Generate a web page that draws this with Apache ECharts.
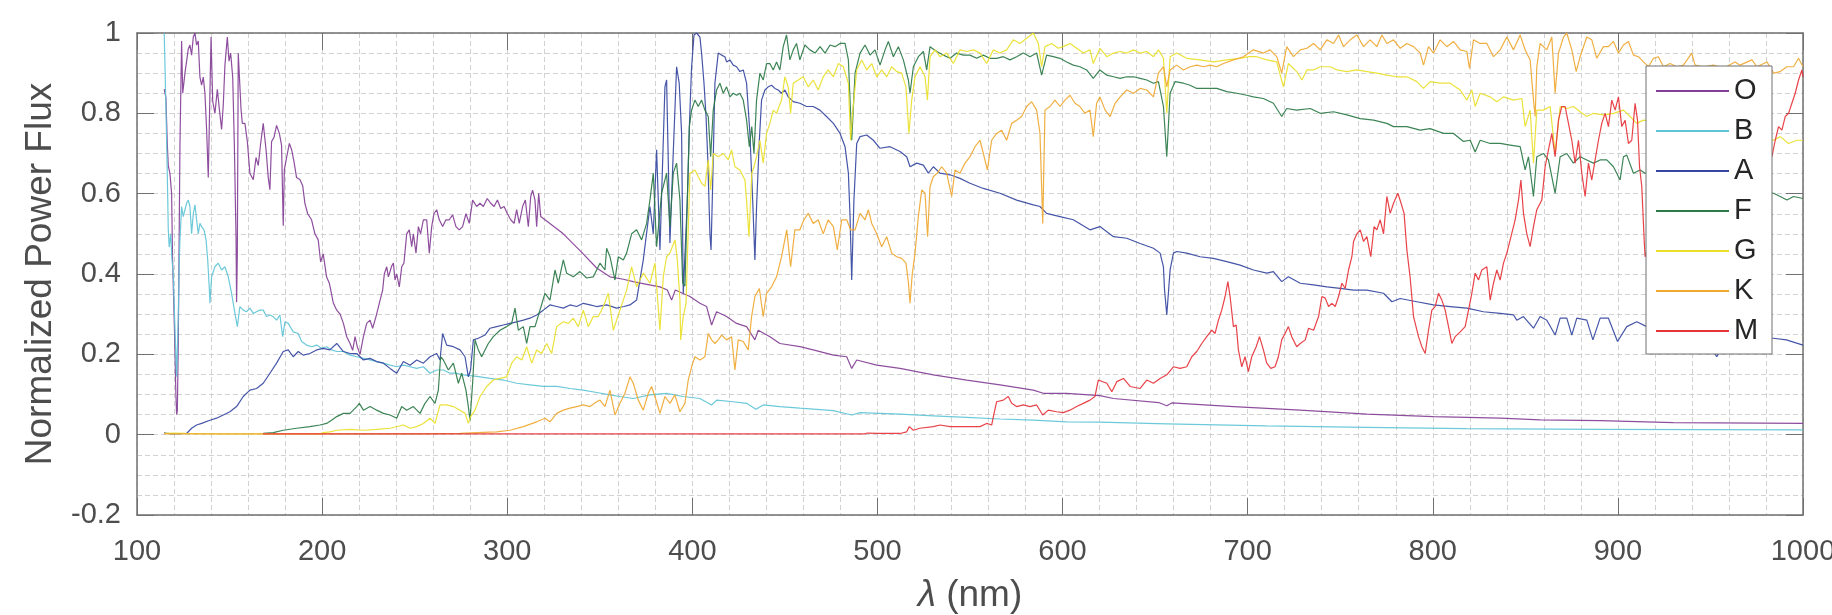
<!DOCTYPE html>
<html><head><meta charset="utf-8">
<script src="https://cdn.jsdelivr.net/npm/echarts@6/dist/echarts.min.js"></script>
<style>html,body{margin:0;padding:0;background:#fff;overflow:hidden}#c{width:1832px;height:615px}</style>
</head><body><div id="c"></div>
<script>
// Star classes (legend order)
const seriesNames = ['O','B','A','F','G','K','M'];
const xTicks = [100,200,300,400,500,600,700,800,900,1000];
const yTicks = [-0.2,0,0.2,0.4,0.6,0.8,1];

// [wavelength nm, normalized flux]
const O = [[114.7,0.86],[115.6,0.84],[116.4,0.72],[116.9,0.67],[117.8,0.65],[118.7,0.60],[119.2,0.44],[120.3,0.25],[121.0,0.10],[121.4,0.05],[121.8,0.06],[122.3,0.23],[123.2,0.72],[124.1,0.98],[124.7,0.85],[125.9,0.90],[126.8,0.93],[127.7,0.96],[128.6,0.97],[129.5,0.945],[130.4,0.99],[131.3,1.0],[132.2,0.97],[133.1,0.98],[134.0,0.89],[134.9,0.87],[135.8,0.89],[136.7,0.85],[137.6,0.76],[138.5,0.64],[139.4,0.85],[140.0,0.99],[140.9,0.83],[142.1,0.80],[143.4,0.86],[144.5,0.81],[145.7,0.76],[146.6,0.82],[147.5,0.92],[148.8,0.99],[149.7,0.93],[150.6,0.95],[151.7,0.89],[152.6,0.72],[153.5,0.49],[153.8,0.33],[154.2,0.45],[154.7,0.95],[155.6,0.95],[156.2,0.81],[156.9,0.775],[158.3,0.775],[159.6,0.73],[161.0,0.65],[162.8,0.635],[164.3,0.69],[165.5,0.67],[166.8,0.725],[168.2,0.775],[169.7,0.71],[170.9,0.64],[171.8,0.61],[172.7,0.73],[174.0,0.74],[175.4,0.77],[176.9,0.75],[178.1,0.72],[179.0,0.52],[179.6,0.66],[180.8,0.69],[182.3,0.725],[183.5,0.71],[184.8,0.68],[186.2,0.64],[188.0,0.635],[189.5,0.62],[190.7,0.576],[192.2,0.55],[194.3,0.535],[196.1,0.50],[197.9,0.485],[199.2,0.43],[200.6,0.45],[202.4,0.393],[203.9,0.377],[205.1,0.35],[206.1,0.327],[207.9,0.31],[209.7,0.30],[211.5,0.277],[213.3,0.244],[215.1,0.227],[216.5,0.21],[217.8,0.244],[219.0,0.219],[220.5,0.20],[222.3,0.244],[224.1,0.277],[225.9,0.285],[227.3,0.265],[229.1,0.294],[230.9,0.327],[232.7,0.36],[233.6,0.40],[234.9,0.418],[235.8,0.393],[236.7,0.393],[237.6,0.42],[238.5,0.427],[239.4,0.385],[240.3,0.40],[241.7,0.368],[243.0,0.418],[244.2,0.427],[245.7,0.50],[247.1,0.51],[248.4,0.468],[249.3,0.50],[250.7,0.452],[252.0,0.518],[253.2,0.50],[254.7,0.535],[256.5,0.535],[257.9,0.452],[259.2,0.518],[260.4,0.55],[261.9,0.56],[263.3,0.535],[265.1,0.518],[266.9,0.535],[268.7,0.535],[270.5,0.547],[272.3,0.518],[274.1,0.51],[275.9,0.518],[277.7,0.55],[279.5,0.526],[281.3,0.584],[283.5,0.568],[285.3,0.576],[287.1,0.568],[289.2,0.588],[291.1,0.576],[292.9,0.568],[294.7,0.584],[296.5,0.563],[298.3,0.568],[300.1,0.55],[301.9,0.535],[303.7,0.526],[305.1,0.56],[306.5,0.526],[308.3,0.568],[309.8,0.584],[311.4,0.518],[312.7,0.593],[313.7,0.609],[315.0,0.584],[315.9,0.518],[317.0,0.601],[318.1,0.543],[330.3,0.50],[340.0,0.455],[348.3,0.415],[355.5,0.393],[362.7,0.387],[368.1,0.381],[374.7,0.375],[382.5,0.368],[386.5,0.36],[388.8,0.335],[390.8,0.36],[398.7,0.344],[404.1,0.327],[407.7,0.319],[410.4,0.273],[413.1,0.306],[418.5,0.294],[423.9,0.277],[429.3,0.269],[433.8,0.236],[435.6,0.26],[441.9,0.244],[447.3,0.227],[458.1,0.219],[465.3,0.211],[476.2,0.198],[483.4,0.194],[486.1,0.165],[488.8,0.186],[499.6,0.173],[512.2,0.165],[530.2,0.149],[548.2,0.136],[566.2,0.124],[584.2,0.111],[589.6,0.103],[602.2,0.103],[620.2,0.097],[627.5,0.09],[652.0,0.08],[656.3,0.072],[659.0,0.079],[692.3,0.07],[728.4,0.061],[764.4,0.051],[800.4,0.045],[836.4,0.041],[858.0,0.037],[890.4,0.035],[930.0,0.030],[1000,0.028]];

const B = [[114.7,1.0],[115.2,0.9],[115.6,0.82],[116.4,0.64],[116.9,0.51],[117.4,0.467],[118.2,0.50],[118.9,0.435],[119.6,0.40],[120.3,0.294],[120.9,0.211],[121.4,0.144],[122.3,0.294],[122.9,0.443],[123.2,0.485],[124.1,0.568],[125.0,0.543],[125.9,0.56],[126.8,0.576],[127.7,0.584],[128.6,0.568],[129.5,0.50],[130.4,0.55],[131.3,0.572],[132.2,0.535],[133.1,0.50],[134.0,0.526],[134.9,0.518],[136.2,0.51],[137.3,0.485],[138.2,0.435],[139.1,0.36],[139.4,0.327],[140.3,0.393],[142.1,0.418],[143.9,0.427],[145.7,0.41],[147.5,0.418],[149.3,0.393],[151.1,0.352],[152.9,0.302],[154.2,0.269],[155.6,0.319],[157.4,0.31],[159.2,0.306],[161.0,0.315],[162.8,0.302],[164.6,0.306],[166.4,0.31],[168.2,0.31],[170.0,0.294],[171.8,0.298],[173.6,0.294],[175.4,0.285],[177.2,0.298],[178.7,0.244],[179.9,0.281],[181.7,0.277],[184.4,0.256],[187.1,0.252],[188.9,0.232],[191.6,0.223],[194.3,0.219],[197.0,0.223],[199.7,0.215],[202.4,0.219],[205.1,0.211],[207.9,0.207],[211.5,0.207],[215.1,0.198],[218.7,0.194],[222.3,0.19],[225.9,0.186],[229.5,0.182],[233.1,0.178],[236.7,0.173],[240.3,0.169],[243.9,0.173],[247.5,0.169],[251.1,0.165],[254.7,0.169],[258.3,0.153],[261.9,0.161],[265.5,0.161],[269.1,0.153],[272.7,0.153],[276.3,0.149],[283.5,0.145],[290.7,0.140],[297.9,0.136],[305.1,0.128],[312.3,0.124],[319.5,0.12],[326.7,0.12],[333.9,0.115],[341.1,0.111],[348.3,0.105],[355.5,0.099],[360.9,0.095],[368.1,0.09],[377.1,0.099],[386.1,0.103],[395.1,0.095],[404.1,0.09],[410.4,0.074],[413.1,0.086],[422.1,0.082],[429.3,0.078],[434.4,0.063],[438.3,0.074],[447.3,0.07],[458.1,0.066],[476.2,0.06],[486.1,0.049],[490.6,0.055],[512.2,0.051],[530.2,0.047],[548.2,0.043],[566.2,0.039],[584.2,0.036],[602.2,0.032],[620.2,0.031],[656.3,0.027],[710.0,0.022],[764.0,0.018],[818.0,0.015],[890.0,0.013],[1000,0.012]];

const A = [[114.7,0.005],[116.0,0.003],[119.6,0.002],[126.8,0.003],[129.5,0.016],[132.2,0.024],[134.9,0.028],[139.4,0.036],[143.0,0.041],[146.6,0.049],[150.2,0.057],[153.8,0.07],[157.4,0.095],[161.0,0.111],[164.6,0.115],[168.2,0.128],[171.8,0.153],[175.4,0.178],[179.0,0.207],[181.7,0.211],[184.4,0.194],[187.1,0.207],[189.8,0.198],[193.4,0.202],[197.0,0.211],[200.6,0.215],[204.2,0.211],[207.9,0.227],[211.5,0.207],[215.1,0.202],[218.7,0.202],[222.3,0.186],[225.9,0.19],[229.5,0.182],[233.1,0.178],[236.7,0.165],[240.3,0.153],[243.9,0.182],[247.5,0.173],[251.1,0.186],[254.7,0.178],[258.3,0.194],[261.9,0.202],[263.7,0.186],[265.1,0.252],[267.3,0.223],[270.9,0.219],[274.5,0.211],[277.2,0.194],[279.0,0.144],[280.2,0.161],[281.7,0.236],[284.4,0.24],[288.0,0.248],[290.7,0.265],[294.3,0.269],[297.9,0.273],[301.5,0.277],[305.1,0.281],[308.7,0.285],[312.3,0.29],[315.9,0.298],[319.5,0.31],[323.1,0.323],[326.7,0.319],[330.3,0.315],[333.9,0.323],[337.5,0.319],[341.1,0.327],[344.7,0.323],[348.3,0.319],[353.7,0.323],[359.1,0.315],[363.0,0.319],[366.3,0.323],[369.9,0.335],[371.5,0.38],[373.5,0.435],[377.1,0.568],[378.9,0.50],[380.7,0.709],[382.5,0.46],[385.2,0.866],[386.1,0.883],[387.9,0.477],[389.4,0.667],[391.5,0.916],[392.9,0.875],[394.2,0.75],[395.1,0.352],[396.0,0.352],[397.3,0.584],[398.4,0.767],[399.6,0.916],[400.9,0.995],[402.3,1.0],[404.1,0.99],[405.0,0.95],[406.3,0.875],[407.4,0.792],[408.3,0.692],[409.5,0.50],[410.1,0.46],[411.0,0.626],[412.2,0.875],[414.0,0.95],[415.8,0.945],[417.6,0.941],[418.5,0.928],[420.3,0.933],[422.1,0.92],[423.9,0.916],[425.7,0.904],[427.5,0.908],[429.3,0.875],[431.1,0.75],[432.6,0.584],[433.8,0.435],[434.7,0.568],[436.2,0.733],[437.4,0.833],[439.2,0.858],[441.0,0.866],[442.8,0.87],[444.6,0.862],[446.4,0.858],[448.2,0.85],[450.0,0.858],[451.8,0.841],[454.5,0.829],[458.1,0.825],[461.7,0.817],[465.3,0.817],[468.9,0.808],[472.5,0.792],[476.2,0.775],[479.8,0.75],[482.5,0.717],[484.3,0.651],[485.2,0.543],[486.1,0.385],[487.3,0.584],[488.8,0.725],[490.6,0.742],[494.2,0.746],[497.8,0.733],[501.4,0.713],[506.8,0.717],[512.2,0.705],[515.8,0.692],[517.6,0.667],[521.2,0.676],[524.8,0.671],[527.5,0.651],[530.2,0.667],[533.8,0.651],[539.2,0.647],[544.6,0.638],[550.0,0.626],[557.2,0.613],[566.2,0.601],[575.2,0.584],[584.2,0.572],[587.8,0.568],[591.4,0.551],[598.6,0.543],[605.8,0.535],[614.8,0.51],[620.2,0.518],[627.5,0.493],[634.7,0.489],[641.9,0.476],[649.1,0.464],[652.7,0.452],[654.5,0.418],[655.1,0.36],[656.3,0.298],[658.1,0.41],[659.9,0.452],[661.7,0.456],[667.1,0.452],[674.3,0.443],[681.5,0.439],[688.7,0.431],[695.9,0.422],[703.1,0.41],[710.3,0.402],[713.9,0.406],[718.4,0.381],[722.0,0.393],[728.4,0.377],[735.6,0.373],[742.8,0.368],[750.0,0.364],[757.2,0.36],[764.4,0.36],[773.4,0.352],[777.9,0.331],[782.4,0.339],[791.4,0.331],[800.4,0.323],[809.4,0.319],[818.4,0.315],[827.4,0.306],[836.4,0.302],[843.6,0.298],[845.4,0.285],[849.0,0.294],[854.4,0.265],[858.0,0.294],[861.6,0.285],[866.1,0.248],[868.8,0.29],[872.4,0.29],[875.1,0.248],[877.8,0.29],[883.2,0.285],[886.5,0.236],[890.4,0.29],[894.9,0.29],[899.8,0.232],[904.8,0.269],[910.2,0.281],[915.6,0.269],[926.0,0.252],[937.0,0.244],[948.0,0.236],[953.4,0.194],[959.0,0.236],[970.0,0.24],[984.0,0.24],[991.0,0.236],[1000,0.223]];

const F = [[168.2,0.003],[173.6,0.005],[179.0,0.011],[186.2,0.016],[193.4,0.02],[198.8,0.024],[202.4,0.028],[205.1,0.036],[207.9,0.045],[211.5,0.053],[215.1,0.053],[218.7,0.07],[220.1,0.078],[222.3,0.061],[225.9,0.07],[229.5,0.061],[233.1,0.053],[236.7,0.049],[240.3,0.041],[243.0,0.07],[245.7,0.061],[249.3,0.07],[252.9,0.053],[255.6,0.078],[258.3,0.095],[261.0,0.078],[262.8,0.111],[264.0,0.194],[265.5,0.186],[268.2,0.161],[270.9,0.178],[273.6,0.128],[275.4,0.153],[277.7,0.111],[279.0,0.07],[279.9,0.036],[281.3,0.128],[282.6,0.236],[284.4,0.211],[286.2,0.194],[288.0,0.211],[289.8,0.227],[292.5,0.244],[296.1,0.26],[299.7,0.269],[302.4,0.277],[304.2,0.315],[306.0,0.26],[308.7,0.269],[310.5,0.227],[312.3,0.269],[315.0,0.269],[317.7,0.31],[320.4,0.352],[323.1,0.335],[325.8,0.41],[327.6,0.377],[330.3,0.435],[332.1,0.402],[335.7,0.393],[339.3,0.406],[342.9,0.39],[346.5,0.393],[350.1,0.427],[352.8,0.41],[353.7,0.464],[355.5,0.443],[358.2,0.385],[360.0,0.443],[362.7,0.435],[364.5,0.452],[367.2,0.50],[369.9,0.51],[372.6,0.485],[375.3,0.526],[377.1,0.584],[378.9,0.651],[380.7,0.468],[383.4,0.601],[386.1,0.651],[387.9,0.518],[389.7,0.651],[391.5,0.676],[393.3,0.584],[394.8,0.377],[396.0,0.37],[398.4,0.767],[399.6,0.808],[401.4,0.833],[403.2,0.817],[405.0,0.833],[406.8,0.808],[408.6,0.792],[409.9,0.692],[411.3,0.808],[413.1,0.858],[414.9,0.875],[416.7,0.85],[418.5,0.866],[420.3,0.841],[422.1,0.85],[423.9,0.845],[425.7,0.85],[427.5,0.833],[429.3,0.783],[430.8,0.717],[432.1,0.767],[433.3,0.70],[434.7,0.833],[436.5,0.90],[438.3,0.883],[440.1,0.924],[441.9,0.924],[443.7,0.908],[445.5,0.928],[447.3,0.908],[449.1,0.966],[450.9,0.995],[452.7,0.933],[454.5,0.958],[456.3,0.974],[458.1,0.933],[460.8,0.97],[463.5,0.958],[466.3,0.95],[469.0,0.966],[471.7,0.95],[474.4,0.97],[477.1,0.966],[479.8,0.974],[482.5,0.974],[484.3,0.933],[486.1,0.733],[487.9,0.90],[490.6,0.95],[493.3,0.97],[496.0,0.945],[498.7,0.958],[501.4,0.92],[504.1,0.958],[505.9,0.979],[508.6,0.941],[511.3,0.966],[514.0,0.933],[516.7,0.883],[517.6,0.85],[519.4,0.916],[522.1,0.941],[524.8,0.954],[526.6,0.908],[528.4,0.966],[532.0,0.954],[535.6,0.945],[539.2,0.937],[542.8,0.95],[546.4,0.945],[550.0,0.945],[553.6,0.937],[557.2,0.945],[560.8,0.937],[564.4,0.937],[568.0,0.941],[571.6,0.933],[575.2,0.941],[578.8,0.95],[582.4,0.941],[586.0,0.95],[588.7,0.895],[591.4,0.945],[595.0,0.941],[598.6,0.937],[602.2,0.928],[605.8,0.92],[609.4,0.916],[613.0,0.908],[616.6,0.887],[620.2,0.908],[623.9,0.895],[627.5,0.891],[631.1,0.887],[634.7,0.891],[638.3,0.891],[641.9,0.887],[645.5,0.883],[649.1,0.875],[651.8,0.879],[654.5,0.817],[656.3,0.692],[658.1,0.85],[660.8,0.879],[665.3,0.875],[668.9,0.87],[672.5,0.862],[677.9,0.862],[683.3,0.862],[688.7,0.854],[694.1,0.85],[699.5,0.845],[703.1,0.841],[708.5,0.837],[713.9,0.825],[718.4,0.792],[721.1,0.812],[726.5,0.808],[733.8,0.812],[739.2,0.8],[746.4,0.804],[753.6,0.796],[760.8,0.787],[768.0,0.783],[775.2,0.775],[778.8,0.767],[786.0,0.767],[793.2,0.758],[798.6,0.762],[805.8,0.75],[811.2,0.75],[816.6,0.73],[820.2,0.733],[822.9,0.704],[825.6,0.733],[831.0,0.725],[836.4,0.725],[841.8,0.721],[847.2,0.717],[849.9,0.659],[851.7,0.692],[854.4,0.593],[856.2,0.692],[859.8,0.70],[862.5,0.684],[866.1,0.601],[868.8,0.692],[872.4,0.70],[876.0,0.676],[879.6,0.692],[883.2,0.684],[886.8,0.676],[890.4,0.684],[894.0,0.684],[897.6,0.667],[901.2,0.634],[903.0,0.692],[904.8,0.696],[908.4,0.651],[912.0,0.659],[914.7,0.651],[930.0,0.64],[950.0,0.62],[970.0,0.61],[984.1,0.601],[987.7,0.593],[991.3,0.584],[994.9,0.593],[1000,0.588]];

const G = [[114.7,0.003],[120.0,0.004],[126.0,0.003],[140.0,0.002],[160.0,0.002],[180.0,0.002],[198.8,0.002],[200.6,0.005],[204.2,0.007],[207.9,0.011],[215.1,0.013],[222.3,0.011],[229.5,0.013],[236.7,0.016],[243.9,0.024],[247.5,0.016],[251.1,0.02],[254.7,0.028],[258.3,0.041],[261.0,0.028],[263.7,0.074],[267.3,0.074],[270.9,0.07],[274.5,0.061],[277.2,0.053],[279.0,0.028],[280.2,0.045],[282.6,0.061],[285.3,0.095],[288.9,0.12],[292.5,0.136],[296.1,0.14],[299.7,0.144],[302.4,0.178],[305.1,0.194],[307.9,0.186],[310.5,0.219],[313.2,0.178],[315.9,0.211],[318.6,0.202],[321.3,0.227],[324.0,0.202],[326.7,0.269],[330.3,0.281],[333.0,0.277],[335.7,0.29],[338.4,0.269],[341.1,0.31],[343.8,0.269],[346.5,0.294],[349.2,0.294],[351.9,0.319],[354.6,0.352],[357.3,0.26],[358.2,0.26],[360.9,0.31],[364.5,0.36],[367.2,0.418],[369.9,0.368],[373.5,0.402],[377.1,0.377],[379.8,0.427],[382.5,0.26],[384.3,0.393],[386.1,0.443],[387.9,0.452],[390.6,0.485],[391.9,0.435],[393.3,0.335],[393.7,0.236],[395.1,0.294],[396.6,0.327],[398.7,0.651],[401.4,0.659],[403.2,0.642],[405.0,0.626],[406.8,0.618],[408.6,0.684],[409.9,0.609],[411.3,0.70],[414.0,0.692],[416.7,0.70],[419.4,0.684],[421.2,0.709],[423.0,0.667],[425.7,0.659],[428.4,0.634],[429.3,0.584],[430.6,0.493],[432.1,0.651],[433.3,0.667],[434.7,0.692],[436.5,0.733],[438.3,0.676],[440.1,0.75],[441.9,0.775],[443.7,0.808],[445.5,0.8],[448.2,0.833],[450.0,0.891],[451.8,0.866],[453.1,0.8],[454.5,0.875],[457.2,0.883],[459.9,0.891],[462.6,0.866],[465.3,0.883],[468.0,0.858],[470.7,0.891],[473.4,0.908],[476.2,0.891],[478.9,0.924],[481.6,0.916],[484.3,0.875],[485.5,0.733],[486.9,0.817],[488.8,0.908],[491.5,0.933],[494.2,0.908],[496.9,0.924],[499.6,0.891],[502.3,0.908],[505.0,0.891],[507.7,0.916],[510.4,0.904],[513.1,0.9],[515.4,0.866],[517.0,0.75],[518.5,0.833],[520.3,0.891],[523.0,0.916],[525.7,0.891],[527.0,0.833],[528.4,0.941],[531.1,0.958],[533.8,0.941],[537.4,0.95],[541.0,0.924],[544.6,0.958],[548.2,0.954],[551.8,0.958],[555.4,0.95],[559.0,0.924],[562.6,0.958],[566.2,0.95],[569.8,0.958],[573.4,0.983],[577.0,0.974],[580.6,0.987],[584.2,1.0],[586.9,0.974],[588.7,0.916],[590.5,0.966],[594.1,0.974],[597.7,0.962],[600.4,0.966],[604.0,0.974],[607.6,0.962],[611.2,0.95],[614.8,0.958],[616.6,0.924],[620.2,0.962],[623.9,0.941],[627.5,0.95],[631.1,0.954],[634.7,0.95],[638.3,0.958],[641.9,0.95],[645.5,0.954],[649.1,0.941],[651.8,0.958],[654.5,0.937],[656.3,0.8],[658.1,0.941],[661.7,0.95],[667.1,0.937],[674.3,0.933],[681.5,0.928],[688.7,0.933],[695.9,0.937],[700.4,0.941],[704.9,0.941],[710.3,0.933],[715.7,0.928],[719.3,0.866],[722.0,0.924],[726.5,0.904],[729.3,0.883],[732.0,0.908],[735.6,0.908],[739.2,0.916],[744.6,0.916],[748.2,0.908],[753.6,0.904],[759.0,0.908],[764.4,0.904],[769.8,0.9],[775.2,0.895],[780.6,0.891],[786.0,0.891],[791.4,0.879],[795.0,0.862],[798.6,0.879],[804.0,0.875],[809.4,0.875],[814.8,0.858],[818.4,0.833],[821.1,0.858],[822.9,0.817],[825.6,0.85],[831.0,0.841],[834.6,0.829],[838.2,0.841],[843.6,0.833],[848.1,0.837],[849.9,0.767],[852.6,0.808],[854.4,0.676],[856.2,0.808],[859.8,0.808],[863.4,0.817],[866.1,0.70],[868.8,0.817],[872.4,0.812],[876.0,0.817],[879.6,0.804],[883.2,0.792],[886.8,0.8],[892.2,0.796],[897.6,0.8],[903.0,0.808],[906.6,0.792],[910.2,0.775],[913.8,0.783],[930.0,0.77],[950.0,0.76],[970.0,0.745],[984.1,0.733],[987.7,0.742],[992.2,0.725],[996.7,0.733],[1000,0.733]];

const K = [[114.7,0.002],[150.0,0.002],[200.0,0.002],[250.0,0.002],[274.5,0.003],[283.5,0.005],[294.3,0.007],[301.5,0.011],[308.7,0.02],[315.9,0.032],[320.4,0.041],[323.1,0.032],[326.7,0.053],[330.3,0.061],[333.9,0.066],[337.5,0.07],[341.1,0.074],[344.7,0.07],[348.3,0.082],[350.1,0.086],[352.8,0.07],[355.5,0.111],[358.2,0.049],[360.9,0.078],[363.6,0.103],[366.3,0.144],[368.1,0.128],[370.8,0.086],[373.5,0.061],[376.2,0.103],[378.0,0.12],[379.8,0.095],[382.5,0.053],[385.2,0.095],[387.9,0.078],[390.6,0.099],[393.3,0.057],[396.0,0.078],[397.8,0.136],[399.6,0.169],[401.4,0.194],[404.1,0.186],[406.8,0.194],[408.6,0.252],[410.4,0.236],[412.2,0.227],[414.0,0.236],[415.8,0.248],[418.5,0.236],[421.2,0.244],[423.0,0.161],[424.8,0.236],[427.5,0.232],[430.2,0.211],[432.0,0.294],[433.8,0.344],[436.2,0.364],[438.3,0.294],[440.1,0.352],[442.8,0.368],[445.5,0.393],[448.2,0.443],[451.0,0.51],[453.1,0.418],[455.4,0.51],[458.1,0.51],[460.3,0.535],[462.6,0.551],[465.3,0.526],[468.0,0.535],[470.7,0.50],[473.4,0.535],[476.2,0.518],[478.3,0.46],[480.7,0.535],[483.4,0.535],[485.5,0.51],[487.9,0.51],[490.6,0.551],[493.3,0.535],[495.1,0.56],[496.9,0.526],[499.6,0.50],[502.3,0.468],[505.0,0.493],[507.7,0.452],[510.4,0.443],[513.1,0.439],[515.4,0.427],[516.7,0.38],[517.6,0.327],[518.8,0.40],[520.3,0.452],[522.1,0.543],[523.9,0.609],[525.7,0.601],[527.1,0.493],[528.4,0.618],[530.2,0.642],[532.3,0.651],[534.7,0.667],[537.4,0.651],[540.1,0.593],[541.9,0.659],[544.6,0.651],[547.3,0.676],[550.0,0.692],[552.7,0.717],[555.4,0.733],[557.2,0.70],[559.4,0.659],[561.7,0.733],[564.4,0.75],[567.1,0.758],[569.8,0.733],[572.5,0.775],[575.2,0.783],[577.9,0.792],[580.6,0.817],[583.3,0.829],[586.0,0.808],[587.8,0.75],[589.3,0.526],[590.5,0.808],[593.2,0.817],[595.9,0.833],[598.6,0.817],[601.3,0.833],[604.0,0.845],[606.7,0.825],[609.4,0.817],[612.1,0.8],[614.8,0.808],[616.6,0.742],[618.4,0.825],[620.2,0.841],[623.0,0.808],[625.7,0.792],[628.4,0.825],[631.1,0.841],[634.7,0.858],[638.3,0.85],[641.9,0.862],[645.5,0.858],[649.1,0.841],[651.8,0.9],[654.5,0.916],[656.3,0.866],[658.1,0.908],[661.7,0.92],[665.3,0.908],[668.9,0.916],[672.5,0.92],[676.1,0.916],[679.7,0.92],[683.3,0.916],[686.9,0.924],[692.3,0.933],[697.7,0.941],[703.1,0.958],[708.5,0.95],[712.1,0.958],[715.7,0.941],[718.4,0.9],[721.1,0.966],[724.7,0.941],[728.4,0.958],[732.0,0.962],[735.6,0.974],[739.2,0.958],[742.8,0.983],[746.4,0.974],[749.1,0.995],[751.8,0.966],[755.4,0.983],[759.0,0.995],[762.6,0.966],[766.2,0.983],[769.8,0.966],[772.5,0.995],[775.2,0.974],[778.8,0.983],[782.4,0.962],[786.0,0.974],[789.6,0.966],[793.2,0.95],[795.0,0.92],[797.7,0.966],[800.4,0.95],[804.0,0.983],[807.6,0.966],[811.2,0.979],[814.8,0.958],[818.4,0.954],[819.8,0.912],[822.0,0.983],[825.6,0.974],[829.2,0.974],[832.8,0.941],[836.4,0.958],[840.0,0.99],[843.6,0.958],[847.2,0.995],[849.9,0.958],[852.6,0.933],[854.4,0.833],[855.3,0.792],[856.2,0.916],[858.0,0.974],[861.6,0.958],[864.3,0.99],[866.1,0.85],[867.9,0.95],[870.6,0.99],[872.4,1.0],[875.1,0.958],[877.5,0.904],[879.6,0.941],[883.2,0.99],[885.9,0.983],[888.6,0.937],[892.2,0.966],[894.9,0.966],[897.6,0.979],[900.3,0.95],[903.0,0.97],[905.7,0.979],[908.4,0.945],[911.1,0.941],[913.8,0.928],[916.5,0.916],[919.2,0.937],[921.9,0.941],[924.6,0.916],[928.2,0.924],[931.8,0.916],[935.4,0.92],[939.9,0.95],[941.7,0.92],[946.2,0.916],[951.6,0.92],[957.0,0.912],[963.3,0.928],[966.0,0.92],[972.4,0.933],[975.1,0.916],[980.5,0.928],[984.1,0.9],[987.7,0.904],[991.3,0.916],[994.9,0.916],[997.6,0.937],[1000,0.916]];

const M = [[168.0,0.002],[250.0,0.002],[350.0,0.002],[450.0,0.002],[493.3,0.002],[494.5,0.004],[500.4,0.003],[512.2,0.003],[515.8,0.007],[517.2,0.02],[519.4,0.011],[523.0,0.016],[530.2,0.02],[533.8,0.024],[539.2,0.02],[544.6,0.02],[550.0,0.02],[555.4,0.02],[559.0,0.028],[561.7,0.024],[563.0,0.053],[564.4,0.082],[568.0,0.086],[570.7,0.095],[572.5,0.078],[575.2,0.07],[578.8,0.074],[582.4,0.07],[586.0,0.074],[589.3,0.049],[592.3,0.061],[596.8,0.057],[600.4,0.055],[604.0,0.061],[607.6,0.07],[611.2,0.078],[614.8,0.086],[617.5,0.095],[619.3,0.136],[620.3,0.132],[623.9,0.128],[626.6,0.107],[629.3,0.132],[632.9,0.14],[636.5,0.12],[641.9,0.115],[645.5,0.136],[649.1,0.128],[652.7,0.14],[656.3,0.149],[659.9,0.169],[663.5,0.165],[667.1,0.169],[669.8,0.194],[672.5,0.207],[675.2,0.227],[677.9,0.244],[680.6,0.26],[682.4,0.252],[684.2,0.285],[686.0,0.31],[687.8,0.344],[689.3,0.381],[690.5,0.344],[692.3,0.269],[693.8,0.273],[695.0,0.211],[696.8,0.169],[698.6,0.194],[700.4,0.157],[702.2,0.194],[704.6,0.219],[706.4,0.244],[708.5,0.211],[710.3,0.178],[712.5,0.165],[714.8,0.169],[716.6,0.194],[718.4,0.236],[720.2,0.252],[722.0,0.269],[723.8,0.244],[726.5,0.219],[728.4,0.227],[731.1,0.236],[732.9,0.265],[735.6,0.26],[738.3,0.294],[740.1,0.344],[741.9,0.34],[743.7,0.319],[745.5,0.327],[747.3,0.319],[749.1,0.344],[750.9,0.377],[752.7,0.364],[754.5,0.41],[756.3,0.443],[757.2,0.481],[759.0,0.50],[760.8,0.51],[762.6,0.481],[764.4,0.493],[766.5,0.443],[768.3,0.518],[769.8,0.51],[771.6,0.535],[773.4,0.50],[775.2,0.593],[777.0,0.551],[778.8,0.576],[781.1,0.601],[782.9,0.576],[784.5,0.551],[786.0,0.46],[787.8,0.39],[789.6,0.294],[792.3,0.244],[794.1,0.219],[795.9,0.202],[797.7,0.26],[799.5,0.31],[801.3,0.319],[803.1,0.352],[804.9,0.335],[806.7,0.31],[808.5,0.269],[810.3,0.227],[812.1,0.244],[814.8,0.256],[817.5,0.269],[819.3,0.31],[821.1,0.352],[822.9,0.402],[824.7,0.385],[826.5,0.41],[829.2,0.418],[831.0,0.335],[832.8,0.377],[834.6,0.41],[836.4,0.385],[838.2,0.427],[840.0,0.452],[841.8,0.485],[844.5,0.535],[846.3,0.584],[847.6,0.634],[849.0,0.551],[850.8,0.50],[852.6,0.468],[854.4,0.518],[856.2,0.56],[858.9,0.584],[860.7,0.667],[862.5,0.709],[864.3,0.75],[866.1,0.692],[867.9,0.783],[869.7,0.817],[871.5,0.817],[873.3,0.775],[875.1,0.733],[876.9,0.676],[878.7,0.733],[880.5,0.651],[882.3,0.593],[884.1,0.676],[885.9,0.634],[887.7,0.684],[889.5,0.733],[891.3,0.775],[893.1,0.8],[894.9,0.767],[896.7,0.833],[898.5,0.808],[900.3,0.841],[902.1,0.767],[903.9,0.783],[905.7,0.725],[907.5,0.733],[909.3,0.825],[910.6,0.783],[911.7,0.667],[912.9,0.618],[914.2,0.485],[914.7,0.443],[918.0,0.50],[930.0,0.58],[945.0,0.62],[960.0,0.65],[975.0,0.68],[983.2,0.692],[985.0,0.733],[986.8,0.767],[988.6,0.758],[990.4,0.792],[992.2,0.8],[994.0,0.825],[995.8,0.85],[997.6,0.883],[999.4,0.908],[1000,0.891]];

const seriesData = [O, B, A, F, G, K, M];
const seriesColors = ['#843f96','#5fc4d6','#3547a0','#2b7a48','#e9df2a','#efa832','#e63338'];

const FONT = '"Liberation Sans", Arial, Helvetica, sans-serif';
const AXC = '#707070';
const LBL = '#4d4d4d';
const gridLine = {show:true, lineStyle:{color:'#d2d2d2', type:[5,3], width:1}};
const fmt = v => String(Math.round(v*1000)/1000);

const chart = echarts.init(document.getElementById('c'), null, {renderer:'canvas', width:1832, height:615});
const baseX = {type:'value', min:xTicks[0], max:xTicks[xTicks.length-1], interval:xTicks[1]-xTicks[0]};
const baseY = {type:'value', min:yTicks[0], max:yTicks[yTicks.length-1], interval:yTicks[2]-yTicks[1]};
chart.setOption({
  animation:false,
  backgroundColor:'#ffffff',
  grid:{left:137, right:29, top:33, bottom:100, containLabel:false, outerBoundsMode:'none'},
  xAxis:[
    Object.assign({}, baseX, {
      position:'bottom',
      axisLine:{show:true, onZero:false, lineStyle:{color:AXC, width:1.5}},
      axisTick:{show:true, inside:true, length:17, lineStyle:{color:AXC, width:1}},
      axisLabel:{show:true, color:LBL, fontSize:29, fontFamily:FONT, margin:22, showMinLabel:true, showMaxLabel:true, formatter:fmt},
      splitLine:gridLine,
      minorTick:{show:false, splitNumber:5},
      minorSplitLine:gridLine,
      name:'{i|λ} (nm)', nameLocation:'middle', nameGap:62,
      nameTextStyle:{color:LBL, fontSize:37, fontFamily:FONT, rich:{i:{fontStyle:'italic', fontSize:37, color:LBL, fontFamily:FONT}}}
    }),
    Object.assign({}, baseX, {
      position:'top',
      axisLine:{show:true, onZero:false, lineStyle:{color:AXC, width:1.5}},
      axisTick:{show:true, inside:true, length:17, lineStyle:{color:AXC, width:1}},
      axisLabel:{show:false}, splitLine:{show:false}
    })
  ],
  yAxis:[
    Object.assign({}, baseY, {
      position:'left',
      axisLine:{show:true, onZero:false, lineStyle:{color:AXC, width:1.5}},
      axisTick:{show:true, inside:true, length:17, lineStyle:{color:AXC, width:1}},
      axisLabel:{show:true, color:LBL, fontSize:29, fontFamily:FONT, margin:16, showMinLabel:true, showMaxLabel:true, formatter:fmt},
      splitLine:gridLine,
      minorTick:{show:false, splitNumber:4},
      minorSplitLine:gridLine,
      name:'Normalized Power Flux', nameLocation:'middle', nameGap:78, nameRotate:90,
      nameTextStyle:{color:LBL, fontSize:37, fontFamily:FONT}
    }),
    Object.assign({}, baseY, {
      position:'right',
      axisLine:{show:true, onZero:false, lineStyle:{color:AXC, width:1.5}},
      axisTick:{show:true, inside:true, length:17, lineStyle:{color:AXC, width:1}},
      axisLabel:{show:false}, splitLine:{show:false}
    })
  ],
  legend:{
    show:true, orient:'vertical', left:1646, top:66, z:20,
    padding:[10,12,8,10], itemGap:10, itemWidth:73, itemHeight:2, icon:'rect',
    backgroundColor:'#ffffff', borderColor:'#707070', borderWidth:1, borderRadius:0,
    textStyle:{fontSize:29, color:'#262626', fontFamily:FONT, lineHeight:30, width:26, overflow:'none'},
    data:seriesNames
  },
  series: seriesNames.map((n,i)=>({
    name:n, type:'line', xAxisIndex:0, yAxisIndex:0,
    data:seriesData[i], showSymbol:false, symbol:'none', clip:true,
    lineStyle:{width:1.2, color:seriesColors[i], opacity:0.92},
    itemStyle:{color:seriesColors[i]},
    emphasis:{disabled:true}, z:2+i
  }))
});
</script>
</body></html>
